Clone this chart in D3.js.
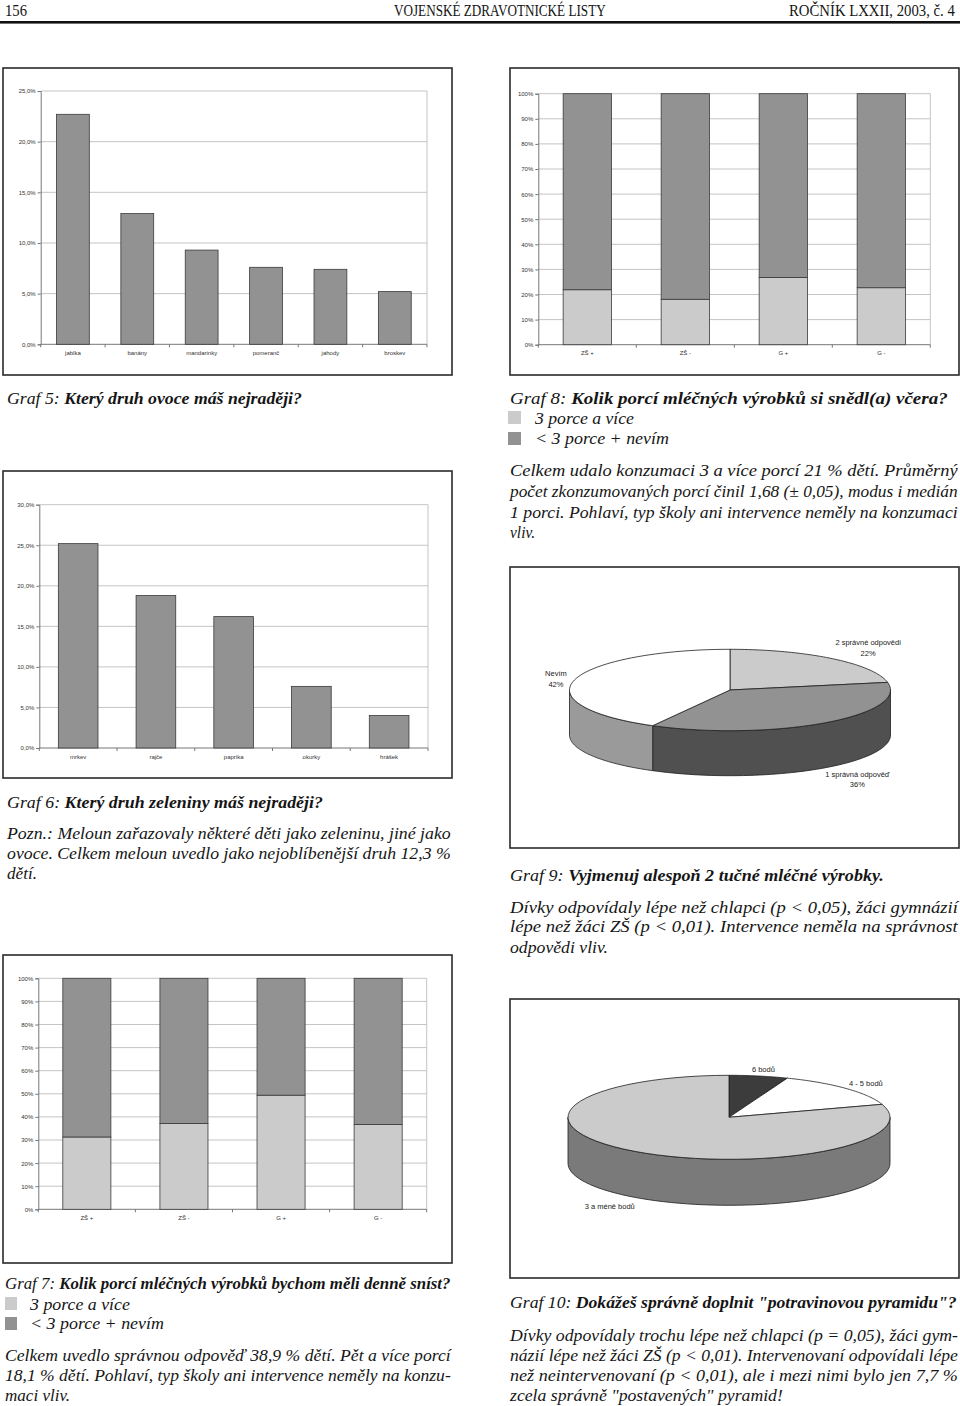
<!DOCTYPE html>
<html><head><meta charset="utf-8">
<script src="https://cdn.jsdelivr.net/npm/d3@7"></script>
<style>body{margin:0;background:#fff}svg{display:block}</style>
</head><body><svg id="page" width="960" height="1406"></svg>
<script>
// ---------------- DATA ----------------
const fruitCategories = ["jablka", "banány", "mandarinky", "pomeranč", "jahody", "broskev"];
const fruitValues = [22.7, 12.9, 9.3, 7.6, 7.4, 5.2];
const fruitTicks = [0, 5, 10, 15, 20, 25];
const fruitTickLabels = ["0,0%", "5,0%", "10,0%", "15,0%", "20,0%", "25,0%"];

const vegCategories = ["mrkev", "rajče", "paprika", "okurky", "hrášek"];
const vegValues = [25.2, 18.8, 16.2, 7.6, 4.0];
const vegTicks = [0, 5, 10, 15, 20, 25, 30];
const vegTickLabels = ["0,0%", "5,0%", "10,0%", "15,0%", "20,0%", "25,0%", "30,0%"];

const groupCategories = ["ZŠ +", "ZŠ -", "G +", "G -"];
const seriesNames = ["3 porce a více", "< 3 porce + nevím"];
const dairyYesterday3plus = [21.9, 18.1, 26.8, 22.7];   // Graf 8
const dairyShould3plus = [31.3, 37.1, 49.4, 36.7];      // Graf 7
const pctTicks = [0, 10, 20, 30, 40, 50, 60, 70, 80, 90, 100];
const pctTickLabels = ["0%", "10%", "20%", "30%", "40%", "50%", "60%", "70%", "80%", "90%", "100%"];

const fatLabels = ["2 správné odpovědi", "1 správná odpověď", "Nevím"];
const fatValues = [22, 36, 42];
const pyramidLabels = ["6 bodů", "4 - 5 bodů", "3 a méně bodů"];
const pyramidValues = [5.9, 14.1, 80.0];

// ---------------- SETUP ----------------
const svg = d3.select("#page");
svg.append("rect").attr("width", 960).attr("height", 1406).attr("fill", "#fff");
const SERIF = "'Liberation Serif','Times New Roman',serif";
const SANS = "'Liberation Sans',Arial,sans-serif";
const C_BAR = "#929292", C_LIGHT = "#cbcbcb", C_EDGE = "#3a3a3a", C_GRID = "#bdbdbd";

function line(x, y, parts, width, opts = {}) {
  const g = svg.append("g");
  const t = g.append("text").attr("font-family", SERIF).attr("font-size", opts.size || 17.5).attr("fill", "#151515");
  parts.forEach(p => t.append("tspan")
    .attr("font-style", p.i === false ? "normal" : "italic")
    .attr("font-weight", p.b ? "bold" : "normal").text(p.t));
  const w = t.node().getComputedTextLength();
  const sx = width ? width / w : (opts.cf || 0.86);
  let tx = x;
  if (opts.anchor === "middle") tx = x - w * sx / 2;
  if (opts.anchor === "end") tx = x - w * sx;
  g.attr("transform", `translate(${tx},${y}) scale(${sx},1)`);
}

function box(x0, y0, x1, y1) {
  svg.append("rect").attr("x", x0).attr("y", y0).attr("width", x1 - x0).attr("height", y1 - y0)
    .attr("fill", "#fff").attr("stroke", "#2a2a2a").attr("stroke-width", 1.6);
}

function frame(p) {
  const g = svg.append("g");
  const x = d3.scaleBand().domain(p.cats).range([p.x0, p.x1]).paddingInner(p.pad).paddingOuter(p.pad / 2);
  const y = d3.scaleLinear().domain([0, p.max]).range([p.y1, p.y0]);
  g.selectAll(".grid").data(p.ticks.filter(v => v > 0)).join("line")
    .attr("x1", p.x0).attr("x2", p.x1).attr("y1", d => y(d)).attr("y2", d => y(d))
    .attr("stroke", C_GRID).attr("stroke-width", 0.9);
  g.append("line").attr("x1", p.x1).attr("x2", p.x1).attr("y1", p.y0).attr("y2", p.y1)
    .attr("stroke", C_GRID).attr("stroke-width", 0.9);
  const ya = d3.axisLeft(y).tickValues(p.ticks).tickFormat((d, i) => p.tickLabels[i]).tickSize(3).tickPadding(2);
  const yg = g.append("g").attr("transform", `translate(${p.x0},0)`).call(ya);
  yg.select(".domain").attr("stroke", "#777");
  yg.selectAll(".tick line").attr("stroke", "#777");
  yg.selectAll("text").attr("font-family", SANS).attr("font-size", 6).attr("fill", "#333");
  const step = x.step();
  const bounds = d3.range(p.cats.length + 1).map(i => p.x0 + i * step);
  g.append("line").attr("x1", p.x0).attr("x2", p.x1).attr("y1", p.y1).attr("y2", p.y1).attr("stroke", "#777");
  g.selectAll(".xt").data(bounds).join("line").attr("x1", d => d).attr("x2", d => d)
    .attr("y1", p.y1).attr("y2", p.y1 + 3).attr("stroke", "#777");
  g.selectAll(".xl").data(p.cats).join("text")
    .attr("x", d => x(d) + x.bandwidth() / 2).attr("y", p.y1 + 10.5)
    .attr("text-anchor", "middle").attr("font-family", SANS).attr("font-size", 6).attr("fill", "#333").text(d => d);
  return { g, x, y };
}

function simpleBars(p, values) {
  const { g, x, y } = frame(p);
  g.selectAll(".bar").data(p.cats).join("rect")
    .attr("x", d => x(d)).attr("width", x.bandwidth())
    .attr("y", (d, i) => y(values[i])).attr("height", (d, i) => y(0) - y(values[i]))
    .attr("fill", C_BAR).attr("stroke", C_EDGE).attr("stroke-width", 0.8);
}

function stackedBars(p, lower) {
  const { g, x, y } = frame(p);
  const rows = p.cats.map((c, i) => ({ c, a: lower[i], b: 100 - lower[i] }));
  const stack = d3.stack().keys(["a", "b"])(rows);
  const colors = [C_LIGHT, C_BAR];
  stack.forEach((layer, li) => {
    g.selectAll(".s" + li).data(layer).join("rect")
      .attr("x", d => x(d.data.c)).attr("width", x.bandwidth())
      .attr("y", d => y(d[1])).attr("height", d => y(d[0]) - y(d[1]))
      .attr("fill", colors[li]).attr("stroke", C_EDGE).attr("stroke-width", 0.8);
  });
}

function pie3d(p) {
  const g = svg.append("g");
  const arcs = d3.pie().sort(null).value(d => d)(p.values);
  const px = a => p.cx + p.rx * Math.sin(a);
  const py = a => p.cy - p.ry * Math.cos(a);
  const pts = (a0, a1, dy) => d3.range(0, 61).map(k => {
    const a = a0 + (a1 - a0) * k / 60; return [px(a), py(a) + dy];
  });
  arcs.forEach((a, i) => {
    const s = Math.max(a.startAngle, Math.PI / 2), e = Math.min(a.endAngle, 3 * Math.PI / 2);
    if (e <= s) return;
    const poly = pts(s, e, 0).concat(pts(s, e, p.depth).reverse());
    g.append("path").attr("d", d3.line()(poly) + "Z").attr("fill", p.side[i])
      .attr("stroke", "#1e1e1e").attr("stroke-width", 0.8).attr("stroke-linejoin", "round");
  });
  arcs.forEach((a, i) => {
    const poly = [[p.cx, p.cy]].concat(pts(a.startAngle, a.endAngle, 0));
    g.append("path").attr("d", d3.line()(poly) + "Z").attr("fill", p.top[i])
      .attr("stroke", "#1e1e1e").attr("stroke-width", 0.8).attr("stroke-linejoin", "round");
  });
  arcs.forEach((a, i) => {
    const m = (a.startAngle + a.endAngle) / 2, f = p.lf[i];
    const lx = p.cx + p.rx * f * Math.sin(m);
    let ly = p.cy - p.ry * f * Math.cos(m);
    if (Math.cos(m) < 0) ly += p.depth;
    const lines = p.pct ? [p.labels[i], d3.format(".0f")(p.values[i]) + "%"] : [p.labels[i]];
    const off = lines.length === 2 ? -5 : 0;
    lines.forEach((t, k) => g.append("text").attr("x", lx).attr("y", ly + off + k * 10.5 + 2.5)
      .attr("text-anchor", "middle").attr("font-family", SANS).attr("font-size", 7.5).attr("fill", "#222").text(t));
  });
}

// ---------------- HEADER ----------------
line(5, 16, [{ t: "156", i: false }], 22, { size: 16.5 });
line(500, 16, [{ t: "VOJENSKÉ ZDRAVOTNICKÉ LISTY", i: false }], 212, { size: 16.5, anchor: "middle" });
line(955, 16, [{ t: "ROČNÍK LXXII, 2003, č. 4", i: false }], 166, { size: 16.5, anchor: "end" });
svg.append("rect").attr("x", 0).attr("y", 21).attr("width", 960).attr("height", 2.6).attr("fill", "#111");

// ---------------- GRAF 5 ----------------
box(3, 68, 452, 375);
simpleBars({ cats: fruitCategories, x0: 40.7, x1: 427, y0: 91, y1: 344.3, max: 25, pad: 0.49,
  ticks: fruitTicks, tickLabels: fruitTickLabels }, fruitValues);
line(7, 404, [{ t: "Graf 5: " }, { t: "Který druh ovoce máš nejraději?", b: true }], 295);

// ---------------- GRAF 8 ----------------
box(510, 68, 959, 375);
stackedBars({ cats: groupCategories, x0: 538.3, x1: 930.3, y0: 93.7, y1: 344.7, max: 100, pad: 0.507,
  ticks: pctTicks, tickLabels: pctTickLabels }, dairyYesterday3plus);
line(510, 404, [{ t: "Graf 8: " }, { t: "Kolik porcí mléčných výrobků si snědl(a) včera?", b: true }], 438);
svg.append("rect").attr("x", 508).attr("y", 411).attr("width", 13).attr("height", 13).attr("fill", C_LIGHT);
svg.append("rect").attr("x", 508).attr("y", 432).attr("width", 13).attr("height", 13).attr("fill", C_BAR);
line(535, 424, [{ t: seriesNames[0] }], 99);
line(535, 444, [{ t: seriesNames[1] }], 134);
line(510, 476, [{ t: "Celkem udalo konzumaci 3 a více porcí 21 % dětí. Průměrný" }], 448);
line(510, 497, [{ t: "počet zkonzumovaných porcí činil 1,68 (± 0,05), modus i medián" }], 448);
line(510, 518, [{ t: "1 porci. Pohlaví, typ školy ani intervence neměly na konzumaci" }], 448);
line(510, 538, [{ t: "vliv." }], 25);

// ---------------- GRAF 6 ----------------
box(3, 471, 452, 778);
simpleBars({ cats: vegCategories, x0: 39.3, x1: 428, y0: 504.7, y1: 748, max: 30, pad: 0.49,
  ticks: vegTicks, tickLabels: vegTickLabels }, vegValues);
line(7, 808, [{ t: "Graf 6: " }, { t: "Který druh zeleniny máš nejraději?", b: true }], 316);
line(7, 839, [{ t: "Pozn.: Meloun zařazovaly některé děti jako zeleninu, jiné jako" }], 444);
line(7, 859, [{ t: "ovoce. Celkem meloun uvedlo jako nejoblíbenější druh 12,3 %" }], 444);
line(7, 879, [{ t: "dětí." }], 30);

// ---------------- GRAF 9 ----------------
box(510, 567, 959, 848);
pie3d({ cx: 730, cy: 690, rx: 160.5, ry: 40.7, depth: 45, values: fatValues, labels: fatLabels, pct: true,
  top: ["#cbcbcb", "#929292", "#ffffff"], side: ["#8a8a8a", "#505050", "#9a9a9a"], lf: [1.35, 1.35, 1.12] });
line(510, 881, [{ t: "Graf 9: " }, { t: "Vyjmenuj alespoň 2 tučné mléčné výrobky.", b: true }], 374);
line(510, 913, [{ t: "Dívky odpovídaly lépe než chlapci (p < 0,05), žáci gymnázií" }], 448);
line(510, 932, [{ t: "lépe než žáci ZŠ (p < 0,01). Intervence neměla na správnost" }], 448);
line(510, 953, [{ t: "odpovědi vliv." }], 98);

// ---------------- GRAF 7 ----------------
box(3, 955, 452, 1263);
stackedBars({ cats: groupCategories, x0: 38.3, x1: 426.7, y0: 978.3, y1: 1209.3, max: 100, pad: 0.505,
  ticks: pctTicks, tickLabels: pctTickLabels }, dairyShould3plus);
line(5, 1289, [{ t: "Graf 7: " }, { t: "Kolik porcí mléčných výrobků bychom měli denně sníst?", b: true }], 446);
svg.append("rect").attr("x", 5).attr("y", 1297).attr("width", 12).attr("height", 13).attr("fill", C_LIGHT);
svg.append("rect").attr("x", 5).attr("y", 1317).attr("width", 12).attr("height", 13).attr("fill", C_BAR);
line(30, 1310, [{ t: seriesNames[0] }], 100);
line(30, 1329, [{ t: seriesNames[1] }], 134);
line(5, 1361, [{ t: "Celkem uvedlo správnou odpověď 38,9 % dětí. Pět a více porcí" }], 446);
line(5, 1381, [{ t: "18,1 % dětí. Pohlaví, typ školy ani intervence neměly na konzu-" }], 446);
line(5, 1401, [{ t: "maci vliv." }], 65);

// ---------------- GRAF 10 ----------------
box(510, 999, 959, 1278);
pie3d({ cx: 729, cy: 1117.3, rx: 161, ry: 42, depth: 46, values: pyramidValues, labels: pyramidLabels, pct: false,
  top: ["#3c3c3c", "#ffffff", "#cbcbcb"], side: ["#222222", "#9a9a9a", "#7a7a7a"], lf: [1.16, 1.17, 1.26] });
line(510, 1308, [{ t: "Graf 10: " }, { t: "Dokážeš správně doplnit \"potravinovou pyramidu\"?", b: true }], 447);
line(510, 1341, [{ t: "Dívky odpovídaly trochu lépe než chlapci (p = 0,05), žáci gym-" }], 448);
line(510, 1361, [{ t: "názií lépe než žáci ZŠ (p < 0,01). Intervenovaní odpovídali lépe" }], 448);
line(510, 1381, [{ t: "než neintervenovaní (p < 0,01), ale i mezi nimi bylo jen 7,7 %" }], 448);
line(510, 1401, [{ t: "zcela správně \"postavených\" pyramid!" }], 273);
</script></body></html>
